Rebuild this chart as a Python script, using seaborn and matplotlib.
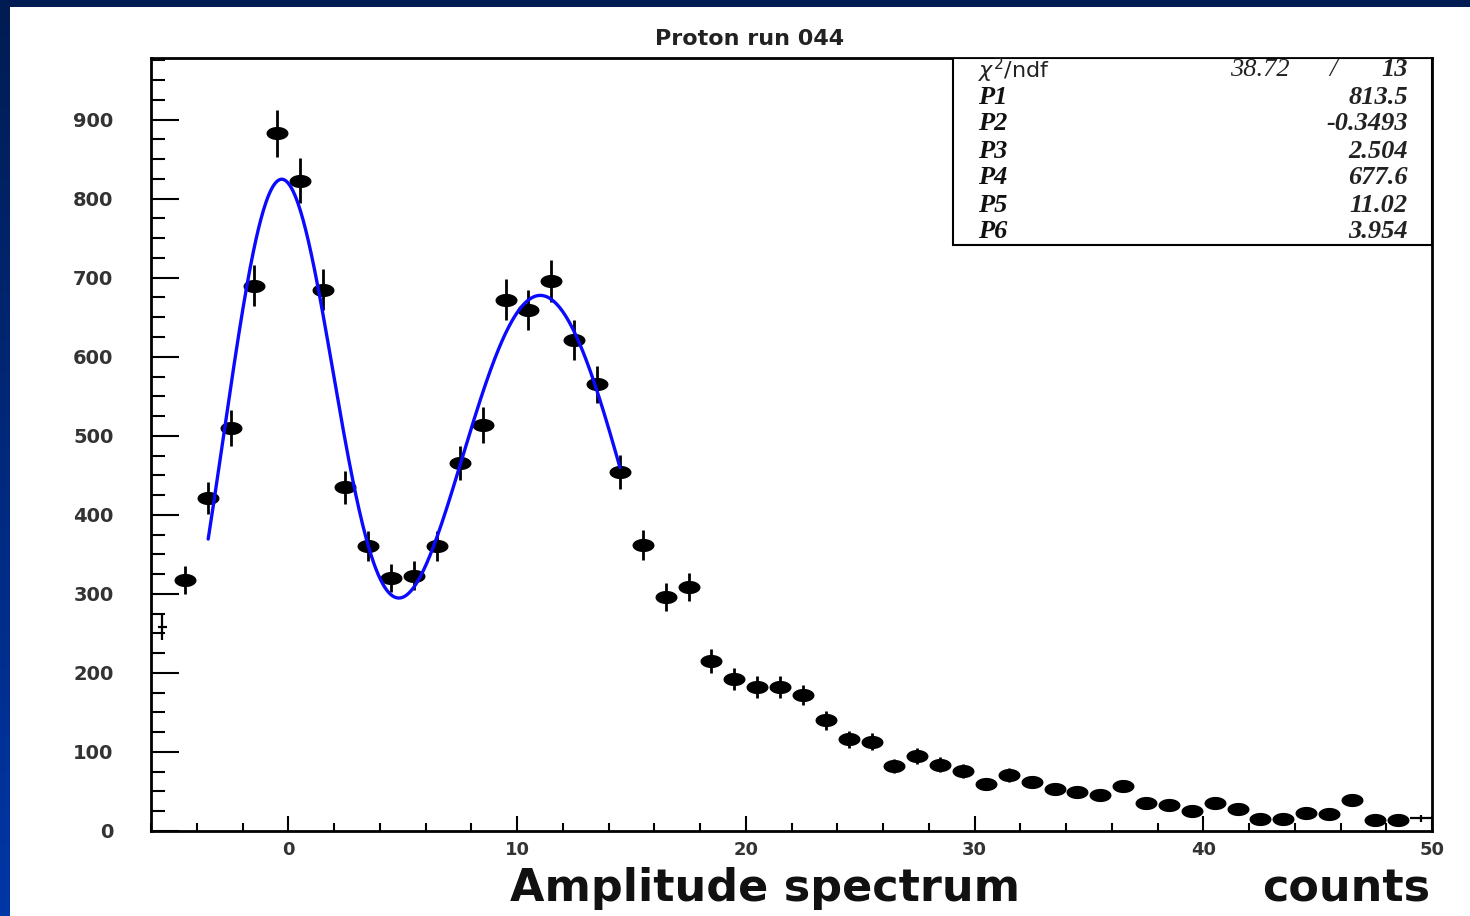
import numpy as np
import pandas as pd
import matplotlib
matplotlib.use("Agg")
import matplotlib.pyplot as plt
import seaborn as sns
from matplotlib.path import Path
from matplotlib.patches import Rectangle
from matplotlib.ticker import MultipleLocator
from matplotlib.colors import LinearSegmentedColormap

# ---------------- data ----------------
bin_centers = [-4.5, -3.5, -2.5, -1.5, -0.5, 0.5, 1.5, 2.5, 3.5, 4.5,
               5.5, 6.5, 7.5, 8.5, 9.5, 10.5, 11.5, 12.5, 13.5, 14.5,
               15.5, 16.5, 17.5, 18.5, 19.5, 20.5, 21.5, 22.5, 23.5, 24.5,
               25.5, 26.5, 27.5, 28.5, 29.5, 30.5, 31.5, 32.5, 33.5, 34.5,
               35.5, 36.5, 37.5, 38.5, 39.5, 40.5, 41.5, 42.5, 43.5, 44.5,
               45.5, 46.5, 47.5, 48.5]
counts = [318, 421, 510, 690, 883, 823, 685, 435, 360, 320,
          323, 360, 466, 514, 672, 659, 696, 621, 565, 454,
          362, 296, 309, 215, 192, 182, 182, 172, 140, 116,
          113, 82, 95, 84, 76, 59, 71, 62, 53, 49,
          46, 57, 35, 33, 25, 35, 28, 15, 15, 23,
          22, 39, 14, 14]
edge_x = [-5.5, 49.5]
edge_counts = [258, 16]
fit_params = [813.5, -0.3493, 2.504, 677.6, 11.02, 3.954]
fit_range = [-3.5, 14.5]
chi2_text = "38.72"
ndf_text = "13"
param_names = ["P1", "P2", "P3", "P4", "P5", "P6"]
param_texts = ["813.5", "-0.3493", "2.504", "677.6", "11.02", "3.954"]
title = "Proton run 044"
x_ticks = [0, 10, 20, 30, 40, 50]
y_ticks = [0, 100, 200, 300, 400, 500, 600, 700, 800, 900]

# ---------------- style ----------------
sns.set_theme(style="ticks")
plt.rcParams["font.family"] = ["DejaVu Sans"]

W, H = 1470, 916
fig = plt.figure(figsize=(W / 100, H / 100), dpi=100)

# slide background (blue gradient + white panel)
bg = fig.add_axes([0, 0, 1, 1], zorder=-10)
grad = np.linspace(0, 1, 256).reshape(-1, 1)
cmap = LinearSegmentedColormap.from_list("bg", ["#001c52", "#0036a6"])
bg.imshow(grad, aspect="auto", cmap=cmap, extent=[0, 1, 0, 1], origin="upper")
bg.add_patch(Rectangle((10 / W, 0), 1, (H - 7) / H, color="white",
                       transform=bg.transAxes, lw=0))
bg.set_xlim(0, 1)
bg.set_ylim(0, 1)
bg.axis("off")

ax = fig.add_axes([151 / W, 1 - 831 / H, (1432 - 151) / W, (831 - 58) / H])
ax.set_facecolor("white")

df = pd.DataFrame({"x": bin_centers, "y": counts})
df["err"] = np.sqrt(df["y"])

# error bars
ax.errorbar(df["x"], df["y"], yerr=df["err"], fmt="none", ecolor="black",
            elinewidth=2.0, capsize=0, zorder=3)
# edge bins drawn without marker
edge_err = np.sqrt(np.array(edge_counts, dtype=float))
ax.errorbar(edge_x, edge_counts, yerr=edge_err, xerr=[0.2, 0.45], fmt="none",
            ecolor="black", elinewidth=1.6, capsize=0, zorder=3)

# ellipse marker
theta = np.linspace(0, 2 * np.pi, 60)
verts = np.column_stack([np.cos(theta), 0.6 * np.sin(theta)])
ellipse = Path(verts, closed=True)
sns.scatterplot(data=df, x="x", y="y", marker=ellipse, s=250, color="black",
                edgecolor="black", linewidth=0, ax=ax, zorder=4, legend=False)

# fit curve (double gaussian from listed parameters)
p1, p2, p3, p4, p5, p6 = fit_params
xf = np.linspace(fit_range[0], fit_range[1], 500)
yf = p1 * np.exp(-0.5 * ((xf - p2) / p3) ** 2) + p4 * np.exp(-0.5 * ((xf - p5) / p6) ** 2)
sns.lineplot(x=xf, y=yf, color="#0a0aff", lw=2.4, ax=ax, zorder=5,
             sort=False, estimator=None)

ax.set_xlim(-6, 50)
ax.set_ylim(0, 978)
ax.set_xlabel("")
ax.set_ylabel("")
ax.set_xticks(x_ticks)
ax.set_yticks(y_ticks)
ax.xaxis.set_minor_locator(MultipleLocator(2))
ax.yaxis.set_minor_locator(MultipleLocator(25))
ax.tick_params(axis="y", which="major", direction="in", length=20, width=1.5,
               pad=27, labelsize=14, labelcolor="#333333", color="black")
ax.tick_params(axis="y", which="minor", direction="in", length=10, width=1.5,
               color="black")
ax.tick_params(axis="x", which="major", direction="in", length=11, width=1.5,
               pad=7, labelsize=13, labelcolor="#333333", color="black")
ax.tick_params(axis="x", which="minor", direction="in", length=6, width=1.5,
               color="black")
for lab in ax.get_xticklabels() + ax.get_yticklabels():
    lab.set_fontweight("bold")
for s in ax.spines.values():
    s.set_visible(True)
    s.set_color("black")
    s.set_linewidth(2.0)

# stat box
ax.add_patch(Rectangle((0.626, 0.758), 0.374, 0.242, transform=ax.transAxes,
                       facecolor="white", edgecolor="black", lw=1.5, zorder=6))

def fy(py):
    return 1 - py / H

serif = ["Liberation Serif", "DejaVu Serif"]
fs = 19
fig.text(978 / W, fy(70), r"$\chi^{2}$/ndf", ha="left", va="center",
         fontsize=16, color="#222222", zorder=10)
fig.text(1290 / W, fy(70), chi2_text, ha="right", va="center", fontsize=fs,
         family=serif, style="italic", color="#222222", zorder=10)
fig.text(1333 / W, fy(70), "/", ha="center", va="center", fontsize=fs,
         family=serif, style="italic", color="#222222", zorder=10)
fig.text(1408 / W, fy(70), ndf_text, ha="right", va="center", fontsize=fs,
         family=serif, style="italic", weight="bold", color="#222222", zorder=10)
rows_y = [97, 124, 151, 178, 205, 232]
for name, val, py in zip(param_names, param_texts, rows_y):
    fig.text(978 / W, fy(py), name, ha="left", va="center", fontsize=fs,
             family=serif, style="italic", weight="bold", color="#111111", zorder=10)
    fig.text(1408 / W, fy(py), val, ha="right", va="center", fontsize=fs,
             family=serif, style="italic", weight="bold", color="#222222", zorder=10)

# title and axis label
fig.text(749.5 / W, fy(39), title, ha="center", va="center", fontsize=16,
         weight="bold", color="#222222")
fig.text(510 / W, fy(901), "Amplitude spectrum", ha="left", va="baseline",
         fontsize=32, weight="bold", color="#111111")
fig.text(1430 / W, fy(901), "counts", ha="right", va="baseline",
         fontsize=32, weight="bold", color="#111111")

fig.savefig("out.png", dpi=100, facecolor=fig.get_facecolor())
